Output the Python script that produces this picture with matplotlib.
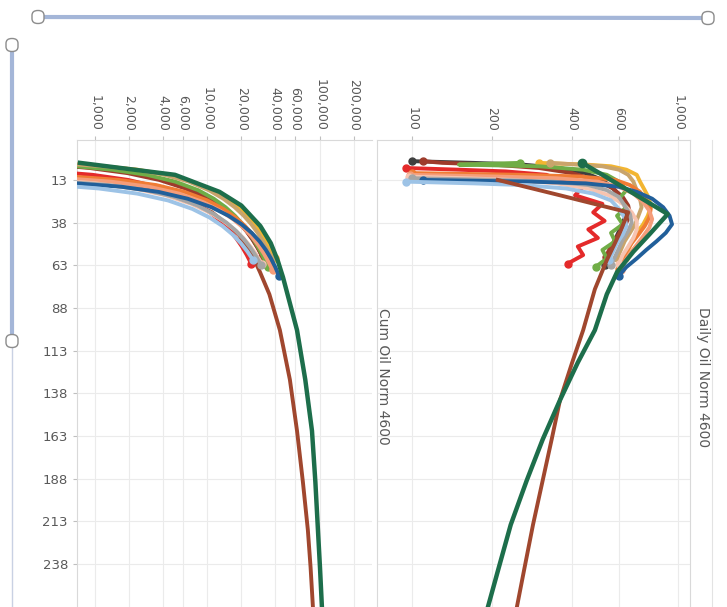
import numpy as np
import matplotlib
matplotlib.use("Agg")
import matplotlib.pyplot as plt
from matplotlib.lines import Line2D
from matplotlib.patches import FancyBboxPatch
from matplotlib.ticker import NullLocator

# ---------------------------------------------------------------------------
# data
# ---------------------------------------------------------------------------
day_ticks = [13, 38, 63, 88, 113, 138, 163, 188, 213, 238]

cum_ticks = [1000, 2000, 4000, 6000, 10000, 20000, 40000, 60000, 100000, 200000]
cum_tick_labels = ["1,000", "2,000", "4,000", "6,000", "10,000", "20,000",
                   "40,000", "60,000", "100,000", "200,000"]
rate_ticks = [100, 200, 400, 600, 1000]
rate_tick_labels = ["100", "200", "400", "600", "1,000"]

# days since first production at which each well was sampled
days_since_start = [0, 1, 2, 4, 7, 11, 16, 21, 26, 31, 36, 41, 46, 51, 56, 61]

well_colors = ["#3f3f3f", "#9e3b2b", "#f2b531", "#70ad47", "#c9a46b", "#e42a2a",
               "#f07c34", "#f59d7a", "#f7c4b0", "#a5a5a5", "#215f9a", "#9dc3e6"]
well_start = [2, 2, 3, 3, 3, 6, 9, 10, 11, 12, 13, 14]
well_rates = [
    [100, 170, 260, 360, 450, 520, 570, 610, 630, 640, 620, 600, 580, 560, 545, 530],
    [110, 130, 200, 300, 400, 490, 570, 620, 650, 660, 640, 610, 580, 555, 535],
    [300, 450, 560, 640, 700, 720, 750, 780, 790, 770, 740, 700, 670, 650, 630],
    [255, 150, 300, 440, 540, 600, 640, 600, 640, 590, 620, 560, 580, 520, 540, 490],
    [330, 420, 520, 600, 650, 680, 700, 720, 730, 710, 690, 660, 630, 610, 590],
    [95, 150, 225, 320, 360, 440, 410, 520, 480, 530, 460, 500, 420, 440, 385],
    [100, 260, 430, 580, 660, 720, 760, 790, 780, 750, 710, 670, 640, 620, 600],
    [98, 210, 350, 500, 600, 680, 740, 780, 800, 780, 740, 700, 660, 630, 610],
    [97, 160, 240, 350, 460, 550, 620, 670, 700, 700, 680, 650, 620, 600],
    [100, 210, 340, 460, 540, 600, 630, 660, 670, 650, 620, 600, 580, 560],
    [110, 280, 450, 600, 700, 800, 880, 930, 950, 900, 830, 760, 700, 640, 600],
    [95, 170, 260, 380, 480, 560, 600, 630, 640, 620, 590, 570, 550],
]
well_cums = [
    [100, 235, 450, 1070, 2285, 4225, 6950, 9900, 13000, 16175, 19325, 22375, 25325, 28175, 30938, 33626],
    [110, 230, 395, 895, 1945, 3725, 6375, 9350, 12525, 15800, 19050, 22175, 25150, 27988, 30713],
    [300, 675, 1180, 2380, 4390, 7230, 10905, 14730, 18655, 22555, 26330, 29930, 33355, 36655, 39855],
    [255, 458, 683, 1423, 2893, 5173, 8273, 11373, 14473, 17548, 20573, 23523, 26373, 29123, 31773, 34348],
    [330, 705, 1175, 2295, 4170, 6830, 10280, 13830, 17455, 21055, 24555, 27930, 31155, 34255, 37255],
    [95, 218, 406, 951, 1971, 3571, 5696, 8021, 10521, 13046, 15521, 17921, 20221, 22371, 24434],
    [100, 280, 625, 1635, 3495, 6255, 9955, 13830, 17755, 21580, 25230, 28680, 31955, 35105, 38155],
    [98, 252, 532, 1382, 3032, 5592, 9142, 12942, 16892, 20842, 24642, 28242, 31642, 34867, 37967],
    [97, 226, 426, 1016, 2231, 4251, 7176, 10401, 13826, 17326, 20776, 24101, 27276, 30326],
    [100, 255, 530, 1330, 2830, 5110, 8185, 11410, 14735, 18035, 21210, 24260, 27210, 30060],
    [110, 305, 670, 1720, 3670, 6670, 10870, 15395, 20095, 24720, 29045, 33020, 36670, 40020, 43120],
    [95, 228, 443, 1083, 2373, 4453, 7353, 10428, 13603, 16753, 19778, 22678, 25478],
]

# type curves
brown_rate_days = [13, 22, 32, 45, 60, 77, 101, 120, 142, 165, 189, 215, 240, 263]
brown_rate = [210, 360, 650, 600, 540, 487, 440, 400, 360, 335, 310, 285, 265, 248]
brown_cum_days = [13, 22, 32, 45, 60, 67, 80, 101, 130, 160, 190, 218, 240, 263]
brown_cum = [1500, 5200, 11000, 19000, 26200, 29300, 35500, 44000, 54000, 62500,
             70500, 78000, 82500, 86500]

green_rate_days = [3, 10, 20, 33, 45, 55, 67, 80, 101, 120, 142, 165, 189, 215, 240, 263]
green_rate = [436, 520, 665, 915, 780, 680, 590, 540, 487, 420, 360, 310, 270, 235, 212, 193]
green_cum_days = [3, 10, 20, 28, 40, 50, 60, 70, 101, 130, 160, 190, 218, 240, 263]
green_cum = [735, 5140, 12800, 20000, 29500, 36500, 42000, 46900, 62500, 74000,
             84900, 91000, 95900, 100000, 104000]

BROWN = "#a0472e"
GREEN = "#1d6e4b"
TEXT = "#595959"
GRID = "#ebebeb"
FRAME = "#d9d9d9"

# ---------------------------------------------------------------------------
W, H = 727, 607
fig = plt.figure(figsize=(W / 100, H / 100), dpi=100)
fig.patch.set_facecolor("white")


def px_rect(x0, y0, x1, y1):
    return [x0 / W, 1 - y1 / H, (x1 - x0) / W, (y1 - y0) / H]


ax_cum = fig.add_axes(px_rect(77, 140, 372, 607))
ax_rate = fig.add_axes(px_rect(377, 140, 690, 607))

for ax in (ax_cum, ax_rate):
    ax.set_xscale("log")
    ax.set_ylim(263.2, -10.4)
    ax.xaxis.tick_top()
    ax.xaxis.set_minor_locator(NullLocator())
    ax.set_yticks(day_ticks)
    ax.grid(True, color=GRID, lw=0.8, zorder=0)
    ax.tick_params(axis="both", colors=TEXT, labelsize=9, length=3)
    ax.tick_params(axis="both", color="#bfbfbf")
    for s in ax.spines.values():
        s.set_color(FRAME)
        s.set_linewidth(0.8)
    ax.spines["bottom"].set_visible(False)

ax_cum.set_xlim(692, 290000)
ax_cum.set_xticks(cum_ticks)
ax_cum.set_xticklabels(cum_tick_labels, rotation=-90)
ax_cum.spines["right"].set_visible(False)
ax_cum.set_yticklabels([str(d) for d in day_ticks], fontsize=9.5)

ax_rate.set_xlim(73.8, 1110)
ax_rate.set_xticks(rate_ticks)
ax_rate.set_xticklabels(rate_tick_labels, rotation=-90)
ax_rate.tick_params(axis="y", labelleft=False, length=0)

# type curves: brown sits under the actuals in the cum chart
ax_cum.plot(brown_cum, brown_cum_days, color=BROWN, lw=2.8, zorder=2)

# actual wells
for color, start, rates, cums in zip(well_colors, well_start, well_rates, well_cums):
    days = [start + d for d in days_since_start[:len(rates)]]
    n = len(days)
    ax_rate.plot(rates, days, color=color, lw=2.8, marker="o", ms=5,
                 markevery=[0, n - 1], solid_capstyle="round", zorder=3)
    ax_cum.plot(cums, days, color=color, lw=2.8, marker="o", ms=5,
                markevery=[0, n - 1], solid_capstyle="round", zorder=3)

ax_rate.plot(brown_rate, brown_rate_days, color=BROWN, lw=2.8, zorder=4)
ax_rate.plot(green_rate, green_rate_days, color=GREEN, lw=3.2, zorder=5,
             marker="o", ms=6, markevery=[0])
ax_cum.plot(green_cum, green_cum_days, color=GREEN, lw=3.2, zorder=5)

# axis titles
fig.text(383 / W, 1 - 376 / H, "Cum Oil Norm 4600", rotation=-90,
         ha="center", va="center", fontsize=10, color=TEXT)
fig.text(703 / W, 1 - 377 / H, "Daily Oil Norm 4600", rotation=-90,
         ha="center", va="center", fontsize=10, color=TEXT)

# faint outer frame line on the right
fig.add_artist(Line2D([712 / W, 712 / W], [0, 1 - 140 / H], color="#e3e3e3", lw=0.8))

# slider widgets
TRACK = "#a4b6d8"
fig.add_artist(Line2D([38 / W, 706 / W], [1 - 17 / H, 1 - 18 / H], color=TRACK,
                      lw=3, solid_capstyle="butt"))
fig.add_artist(Line2D([12 / W, 12 / W], [1 - 45 / H, 1 - 341 / H], color=TRACK,
                      lw=3, solid_capstyle="butt"))
fig.add_artist(Line2D([12 / W, 12 / W], [1 - 341 / H, 0], color="#c9d1e3", lw=1))


def handle(xc, yc, w=12, h=13):
    patch = FancyBboxPatch(((xc - w / 2) / W, 1 - (yc + h / 2) / H), w / W, h / H,
                           boxstyle="round,pad=0,rounding_size=0.008",
                           transform=fig.transFigure, facecolor="white",
                           edgecolor="#8c8c8c", lw=1.0, zorder=10)
    fig.add_artist(patch)


handle(38, 17)
handle(708, 18)
handle(12, 45)
handle(12, 341)

fig.savefig("out.png", dpi=100, facecolor="white")
